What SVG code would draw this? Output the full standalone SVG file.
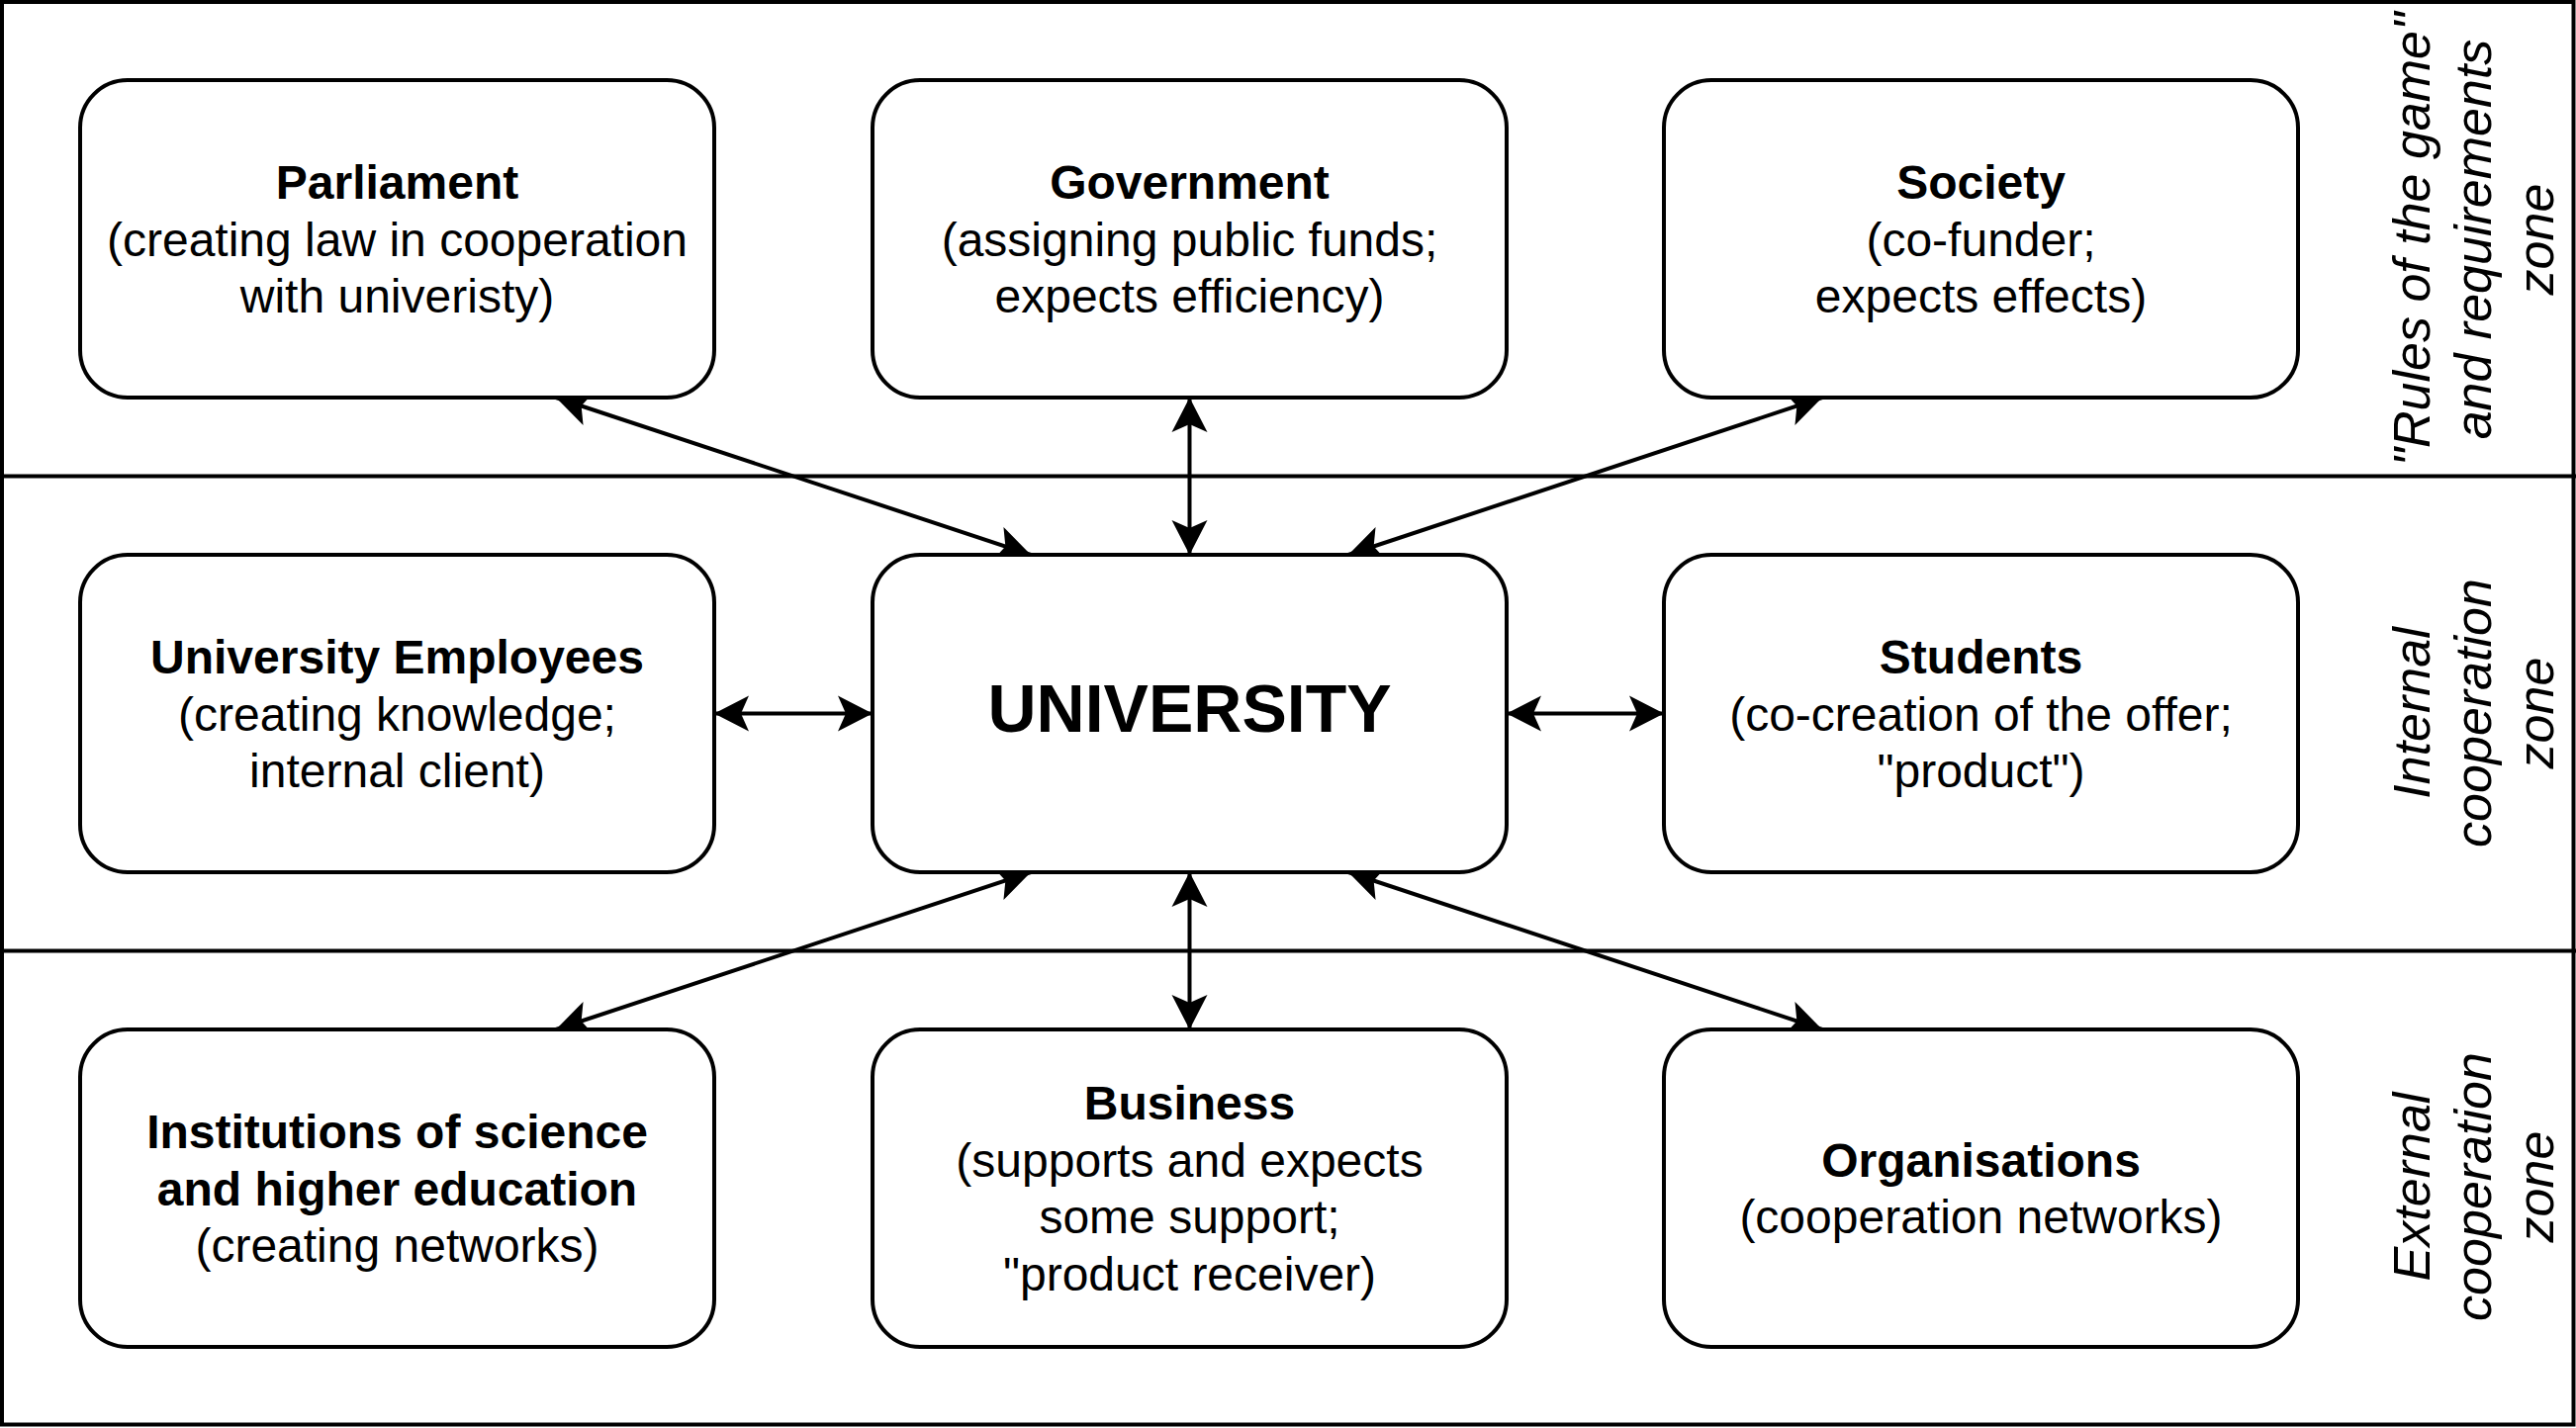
<svg xmlns="http://www.w3.org/2000/svg" width="2604" height="1444" viewBox="0 0 2604 1444">
<style>
.frame{fill:none;stroke:#000;stroke-width:4}
.div{stroke:#000;stroke-width:4}
.box{fill:#fff;stroke:#000;stroke-width:4}
.t{font-family:"Liberation Sans",Arial,Helvetica,sans-serif;font-size:48px;fill:#000;text-anchor:middle}
.b{font-weight:bold}
.z{font-style:italic;font-size:52px}
.big{font-size:68px;font-weight:bold}
.conn{stroke:#000;stroke-width:4;fill:none;marker-start:url(#arr);marker-end:url(#arr)}
</style>
<defs>
<marker id="arr" markerUnits="userSpaceOnUse" viewBox="-36 -19 37 38" markerWidth="37" markerHeight="38" refX="0" refY="0" orient="auto-start-reverse">
<path d="M0,0 L-35,-18 L-27,0 L-35,18 Z" fill="#000"/>
</marker>
</defs>
<rect width="2604" height="1444" fill="#fff"/>
<g id="zones">
<rect class="frame" x="2" y="2" width="2599.5" height="1438.5"/>
<line class="div" x1="0" y1="481.5" x2="2604" y2="481.5"/>
<line class="div" x1="0" y1="961.5" x2="2604" y2="961.5"/>
<text class="t z" transform="translate(2500,242) rotate(-90)"><tspan x="0" y="-44.2">"Rules of the game"</tspan><tspan x="0" y="18.2">and requirements</tspan><tspan x="0" y="80.6">zone</tspan></text>
<text class="t z" transform="translate(2500,721) rotate(-90)"><tspan x="0" y="-44.2">Internal</tspan><tspan x="0" y="18.2">cooperation</tspan><tspan x="0" y="80.6">zone</tspan></text>
<text class="t z" transform="translate(2500,1200) rotate(-90)"><tspan x="0" y="-44.2">External</tspan><tspan x="0" y="18.2">cooperation</tspan><tspan x="0" y="80.6">zone</tspan></text>
</g>
<g id="connectors">
<path class="conn" d="M562,402 L1042,561"/>
<path class="conn" d="M1202.5,402 L1202.5,561"/>
<path class="conn" d="M1842,402 L1363,561"/>
<path class="conn" d="M722,721.5 L882,721.5"/>
<path class="conn" d="M1523,721.5 L1682,721.5"/>
<path class="conn" d="M1042,882 L562,1041"/>
<path class="conn" d="M1202.5,882 L1202.5,1041"/>
<path class="conn" d="M1363,882 L1842,1041"/>
</g>
<g id="parliament">
<rect class="box" x="81" y="81" width="641" height="321" rx="48"/>
<text class="t"><tspan class="b" x="401.5" y="201">Parliament</tspan><tspan x="401.5" y="258.5">(creating law in cooperation</tspan><tspan x="401.5" y="316">with univeristy)</tspan></text>
</g>
<g id="government">
<rect class="box" x="882" y="81" width="641" height="321" rx="48"/>
<text class="t"><tspan class="b" x="1202.5" y="201">Government</tspan><tspan x="1202.5" y="258.5">(assigning public funds;</tspan><tspan x="1202.5" y="316">expects efficiency)</tspan></text>
</g>
<g id="society">
<rect class="box" x="1682" y="81" width="641" height="321" rx="48"/>
<text class="t"><tspan class="b" x="2002.5" y="201">Society</tspan><tspan x="2002.5" y="258.5">(co-funder;</tspan><tspan x="2002.5" y="316">expects effects)</tspan></text>
</g>
<g id="employees">
<rect class="box" x="81" y="561" width="641" height="321" rx="48"/>
<text class="t"><tspan class="b" x="401.5" y="681">University Employees</tspan><tspan x="401.5" y="738.5">(creating knowledge;</tspan><tspan x="401.5" y="796">internal client)</tspan></text>
</g>
<g id="university">
<rect class="box" x="882" y="561" width="641" height="321" rx="48"/>
<text class="t big" x="1202.5" y="740">UNIVERSITY</text>
</g>
<g id="students">
<rect class="box" x="1682" y="561" width="641" height="321" rx="48"/>
<text class="t"><tspan class="b" x="2002.5" y="681">Students</tspan><tspan x="2002.5" y="738.5">(co-creation of the offer;</tspan><tspan x="2002.5" y="796">"product")</tspan></text>
</g>
<g id="institutions">
<rect class="box" x="81" y="1041" width="641" height="321" rx="48"/>
<text class="t"><tspan class="b" x="401.5" y="1161">Institutions of science</tspan><tspan class="b" x="401.5" y="1218.5">and higher education</tspan><tspan x="401.5" y="1276">(creating networks)</tspan></text>
</g>
<g id="business">
<rect class="box" x="882" y="1041" width="641" height="321" rx="48"/>
<text class="t"><tspan class="b" x="1202.5" y="1132">Business</tspan><tspan x="1202.5" y="1189.7">(supports and expects</tspan><tspan x="1202.5" y="1247.3">some support;</tspan><tspan x="1202.5" y="1305">"product receiver)</tspan></text>
</g>
<g id="organisations">
<rect class="box" x="1682" y="1041" width="641" height="321" rx="48"/>
<text class="t"><tspan class="b" x="2002.5" y="1189.7">Organisations</tspan><tspan x="2002.5" y="1247.3">(cooperation networks)</tspan></text>
</g>
</svg>
